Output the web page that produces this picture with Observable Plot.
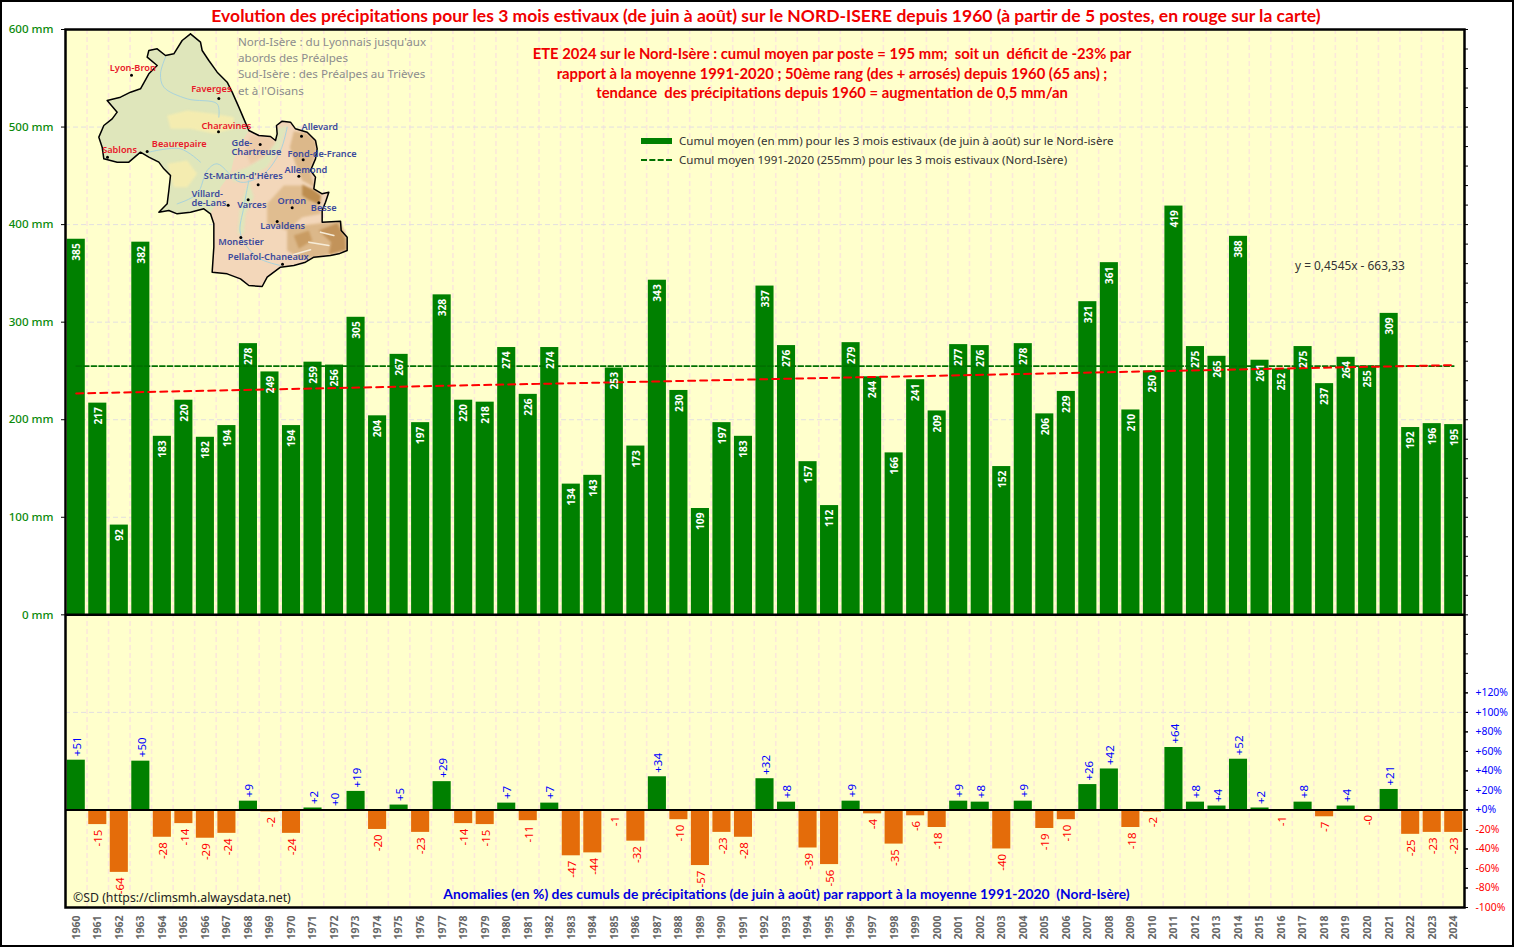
<!DOCTYPE html>
<html lang="fr">
<head>
<meta charset="utf-8">
<script src="https://cdn.jsdelivr.net/npm/d3@7"></script>
<script src="https://cdn.jsdelivr.net/npm/@observablehq/plot@0.6"></script>
<style>
html,body{margin:0;padding:0;background:#fff;overflow:hidden}
#page{position:relative;width:1514px;height:947px;overflow:hidden}
#page>svg{position:absolute;left:0;top:0}
#mapwrap{position:absolute;left:0;top:0;pointer-events:none}
#edge{position:absolute;left:0;top:0;width:1510px;height:943px;border:2px solid #000;pointer-events:none}
.t{position:absolute;white-space:pre;line-height:1}
#title{left:0;width:1532px;top:5px;text-align:center;font:bold 17.5px Lato,sans-serif;color:#f00000}
.red{left:432px;width:800px;text-align:center;font:bold 14.8px Lato,sans-serif;color:#f00000}
.note{left:238px;font:11.6px "Noto Sans",sans-serif;color:#8c8c8c}
.leg{left:679px;font:11.55px "Noto Sans",sans-serif;color:#333}
</style>
</head>
<body>
<div id="page">
<div class="t" id="title">Evolution des précipitations pour les 3 mois estivaux (de juin à août) sur le NORD-ISERE depuis 1960 (à partir de 5 postes, en rouge sur la carte)</div>
</div>
<script>
const years = d3.range(1960, 2025);
const cumul = [385,217,92,382,183,220,182,194,278,249,194,259,256,305,204,267,197,328,220,218,274,226,274,134,143,253,173,343,230,109,197,183,337,276,157,112,279,244,166,241,209,277,276,152,278,206,229,321,361,210,250,419,275,265,388,261,252,275,237,264,255,309,192,196,195];
const anomalies = [51,-15,-64,50,-28,-14,-29,-24,9,-2,-24,2,0,19,-20,5,-23,29,-14,-15,7,-11,7,-47,-44,-1,-32,34,-10,-57,-23,-28,32,8,-39,-56,9,-4,-35,-6,-18,9,8,-40,9,-19,-10,26,42,-18,-2,64,8,4,52,2,-1,8,-7,4,-0,21,-25,-23,-23];
const normalYears = [1960, 2024];
const normalValues = [255, 255];
const trendYears = [1960, 2024];
const trendValues = [227, 256];
const mmTicks = [0,100,200,300,400,500,600];
const anomalyBase = -200; // the 0% line of the lower panel on the shared axis
const pctPositive = [0,20,40,60,80,100,120];
const pctNegative = [-20,-40,-60,-80,-100];
const gridH = [100,200,300,400,500].concat([anomalyBase + 100]);

const rows = years.map((year,i)=>({year, mm:cumul[i], a:anomalies[i], pos:anomalies[i]>0 || Object.is(anomalies[i],0)}));
const fmtA = v => Object.is(v,-0) ? "-0" : (v>=0 ? "+"+v : String(v));
const W = 1514, H = 947;
const step = (W-65-50)/years.length;
const font = "'Noto Sans',sans-serif";

const chart = Plot.plot({
  width:W, height:H, marginLeft:65, marginRight:50, marginTop:29, marginBottom:40,
  style:{background:"transparent", fontFamily:font},
  x:{type:"band", domain:years, paddingInner:.16, paddingOuter:.08, round:false, align:.5},
  y:{domain:[-300,600], range:[907,29]},
  marks:[
    Plot.frame({fill:"#ffffcc", stroke:"none"}),
    Plot.ruleX(years.slice(0,-1),{x:d=>d, dx:step/2, stroke:"#fbe8da", strokeWidth:1.6, strokeDasharray:"5,3"}),
    Plot.ruleY(gridH,{stroke:"#e2dfe0", strokeWidth:1, strokeDasharray:"5,3"}),
    Plot.barY(rows,{x:"year", y1:0, y2:"mm", fill:"#008000"}),
    Plot.barY(rows,{x:"year", y1:anomalyBase, y2:d=>anomalyBase+d.a, fill:d=>d.a>=0?"#008000":"#e46c0a"}),
    Plot.ruleY([anomalyBase],{stroke:"#000", strokeWidth:2}),
    Plot.line(normalYears.map((y,i)=>({y,v:normalValues[i]})),{x:"y", y:"v", stroke:"#007000", strokeWidth:1.8, strokeDasharray:"5,2.6"}),
    Plot.line(trendYears.map((y,i)=>({y,v:trendValues[i]})),{x:"y", y:"v", stroke:"#ff0000", strokeWidth:2, strokeDasharray:"7,5"}),
    Plot.text(rows,{x:"year", y:"mm", text:d=>String(d.mm), rotate:-90, textAnchor:"end", dy:4, dx:.5, fill:"#fff", fontWeight:"bold", fontSize:10.2, fontFamily:"'Open Sans',sans-serif"}),
    Plot.text(rows.filter(d=>d.pos),{x:"year", y:d=>anomalyBase+d.a, text:d=>fmtA(d.a), rotate:-90, textAnchor:"start", dy:-4, dx:1, fill:"#0000ff", fontSize:11.5}),
    Plot.text(rows.filter(d=>!d.pos),{x:"year", y:d=>anomalyBase+d.a, text:d=>fmtA(d.a), rotate:-90, textAnchor:"end", dy:5, dx:1, fill:"#ff0000", fontSize:11.5}),
    Plot.axisY({anchor:"left", ticks:mmTicks, tickFormat:d=>d+" mm", tickSize:4, tickPadding:8, fill:"#0a8a0a", stroke:"#000", fontSize:11.6, fontWeight:500, label:null}),
    Plot.axisY({anchor:"right", ticks:d3.range(-300,601,20), tickFormat:()=>"", tickSize:3, stroke:"#000", label:null}),
    Plot.axisY({anchor:"right", ticks:pctPositive.map(p=>anomalyBase+p), tickFormat:d=>"+"+(d-anomalyBase)+"%", tickSize:3, tickPadding:8, fill:"#0000ff", stroke:"#000", fontSize:10.4, label:null}),
    Plot.axisY({anchor:"right", ticks:pctNegative.map(p=>anomalyBase+p), tickFormat:d=>(d-anomalyBase)+"%", tickSize:3, tickPadding:8, fill:"#ff0000", stroke:"#000", fontSize:10.4, label:null}),
    Plot.axisX({anchor:"bottom", tickRotate:-90, tickSize:0, tickPadding:8, tickFormat:d=>String(d), fill:"#666", fontSize:10.5, fontWeight:"bold", fontFamily:"'Open Sans',sans-serif", label:null}),
    Plot.ruleY([0],{stroke:"#000", strokeWidth:2.5}),
    Plot.frame({stroke:"#000", strokeWidth:2.5})
  ]
});
const page = document.getElementById("page");
page.appendChild(chart);

/* --- inset map, in the units of its own small scale --- */
const mapOutline = [[570,100],[600,125],[605,150],[625,180],[650,215],[680,245],[695,275],[715,320],[730,355],[745,390],[775,405],[810,408],[825,420],[830,400],[828,375],[845,362],[870,365],[885,385],[920,395],[945,420],[950,445],[945,475],[930,510],[945,530],[940,565],[965,580],[985,575],[975,605],[965,630],[965,665],[1020,662],[1022,690],[1040,710],[1040,750],[1015,760],[990,765],[940,770],[915,785],[880,795],[840,800],[800,830],[785,858],[745,855],[720,835],[680,820],[635,815],[640,740],[640,670],[630,640],[610,625],[570,635],[530,640],[505,630],[475,635],[500,610],[505,570],[510,525],[490,505],[475,485],[445,470],[420,455],[385,485],[350,485],[310,475],[305,440],[295,410],[310,375],[335,355],[350,335],[320,300],[360,290],[390,275],[420,265],[445,220],[470,195],[440,170],[445,150],[470,145],[495,165],[520,160],[545,120],[570,100]];
const mapSouth = [[745,390],[775,405],[810,408],[825,420],[830,400],[828,375],[845,362],[870,365],[885,385],[920,395],[945,420],[950,445],[945,475],[930,510],[945,530],[940,565],[965,580],[985,575],[975,605],[965,630],[965,665],[1020,662],[1022,690],[1040,710],[1040,750],[1015,760],[990,765],[940,770],[915,785],[880,795],[840,800],[800,830],[785,858],[745,855],[720,835],[680,820],[635,815],[640,740],[640,670],[630,640],[650,600],[660,560],[690,520],[700,475],[720,430]];
const mapValley = [[860,375],[840,440],[800,500],[750,530],[700,545],[690,520],[740,500],[790,470],[825,420],[830,385]];
const mapValley2 = [[745,540],[760,590],[735,640],[730,700],[712,700],[718,620]];
const mapWest = [[500,345],[560,330],[640,340],[700,350],[700,385],[640,400],[570,385],[510,385]];
const mapWest2 = [[500,490],[560,480],[590,520],[560,560],[520,560]];
const reliefChartreuse = [[750,405],[810,410],[825,425],[795,465],[750,490],[735,450]];
const reliefEast = [[880,392],[920,398],[945,422],[948,450],[928,510],[942,560],[905,540],[885,490],[868,440]];
const reliefMid = [[800,610],[850,555],[905,555],[950,600],[962,640],[905,650],[860,690],[800,670]];
const reliefSouth = [[860,680],[960,668],[1020,664],[1038,712],[1038,748],[960,768],[900,775],[860,750]];
const reliefDark = [[905,552],[940,568],[962,585],[958,612],[925,598],[905,585]];
const reliefDark2 = [[955,690],[1010,668],[1034,715],[1036,748],[985,762],[992,725]];
const reliefDark3 = [[880,705],[925,690],[935,720],[895,745]];
const snow1 = [[960,695],[1000,705]];
const snow2 = [[925,725],[985,735]];
const snow3 = [[880,762],[930,748]];
const riverA = [[495,170],[480,220],[490,260],[560,295],[650,310],[655,350]];
const riverB = [[860,380],[840,450],[790,520],[720,545],[650,490],[620,510],[590,580],[530,610]];
const riverC = [[745,540],[730,620],[720,700],[770,770],[840,795]];
const riverD = [[445,455],[540,445],[600,485]];
const northCities = ["Lyon-Bron","Faverges","Charavines","Beaurepaire","Sablons"];
const northLabelX = [328,572,603,454,305];
const northLabelY = [204,267,376,432,449];
const northDotX = [393,655,654,440,321];
const northDotY = [224,294,394,453,470];
const southCities = ["Gde-\nChartreuse","Allevard","Fond-de-France","Allemond","St-Martin-d'Hères","Villard-\nde-Lans","Varces","Ornon","Besse","Lavaldens","Monestier","Pellafol-Chaneaux"];
const southLabelX = [693,903,861,852,610,573,710,831,931,779,653,682];
const southLabelY = [442,381,460,509,528,594,613,601,622,677,725,771];
const southDotX = [779,903,908,895,773,683,743,875,955,830,721,846];
const southDotY = [432,407,478,527,553,614,598,622,607,663,711,791];

const poly = (pts,fill,blur)=>Plot.line(pts,{x:d=>d[0],y:d=>d[1],fill,stroke:"none",imageFilter:blur?"blur(1.2px)":undefined});
const river = pts=>Plot.line(pts,{x:d=>d[0],y:d=>d[1],stroke:"#a9d3dc",strokeWidth:1,curve:"catmull-rom"});
const snow = pts=>Plot.line(pts,{x:d=>d[0],y:d=>d[1],stroke:"#f6ecd8",strokeWidth:1.6});
const labels = (names,xs,ys,fill)=>Plot.text(names.map((n,i)=>({n,x:xs[i],y:ys[i]})),{x:"x",y:"y",text:"n",fill,textAnchor:"start",fontSize:9.2,fontWeight:600,lineHeight:1});
const dots = (xs,ys)=>Plot.dot(xs.map((x,i)=>({x,y:ys[i]})),{x:"x",y:"y",r:1.5,fill:"#000"});
const map = Plot.plot({
  width:460, height:300, margin:0,
  style:{background:"transparent", fontFamily:font, overflow:"visible"},
  x:{domain:[0,1380], axis:null}, y:{domain:[900,0], axis:null},
  marks:[
    poly(mapOutline,"#dfe6bb"),
    poly(mapWest,"#f4ecb0",true), poly(mapWest2,"#f4ecb0",true),
    poly(mapSouth,"#f3d7ba"),
    poly(mapValley,"#dfe6bb",true), poly(mapValley2,"#dfe6bb",true),
    poly(reliefChartreuse,"#ecccaa",true), poly(reliefEast,"#dcb88a",true), poly(reliefMid,"#e0bd90",true), poly(reliefSouth,"#dcb88a",true),
    poly(reliefDark,"#bd8d4f",true), poly(reliefDark2,"#c2935a",true), poly(reliefDark3,"#c99c63",true),
    snow(snow1), snow(snow2), snow(snow3),
    river(riverA), river(riverB), river(riverC), river(riverD),
    Plot.line(mapOutline,{x:d=>d[0],y:d=>d[1],stroke:"#000",strokeWidth:1.5}),
    dots(northDotX,northDotY), dots(southDotX,southDotY),
    labels(northCities,northLabelX,northLabelY,"#e8182a"),
    labels(southCities,southLabelX,southLabelY,"#3c4a9c")
  ]
});
const wrap = document.createElement("div"); wrap.id="mapwrap"; wrap.appendChild(map); page.appendChild(wrap);

/* --- page text --- */
const add = (cls,text,top,left,extra)=>{const e=document.createElement("div");e.className="t "+cls;e.textContent=text;e.style.top=top+"px";if(left!=null)e.style.left=left+"px";if(extra)e.style.cssText+=extra;page.appendChild(e);return e;};
const notes = ["Nord-Isère : du Lyonnais jusqu'aux","abords des Préalpes","Sud-Isère : des Préalpes au Trièves","et à l'Oisans"];
notes.forEach((s,i)=>add("note",s,[34,50,66,83][i]));
const redLines = ["ETE 2024 sur le Nord-Isère : cumul moyen par poste = 195 mm;  soit un  déficit de -23% par","rapport à la moyenne 1991-2020 ; 50ème rang (des + arrosés) depuis 1960 (65 ans) ;","tendance  des précipitations depuis 1960 = augmentation de 0,5 mm/an"];
redLines.forEach((s,i)=>add("red",s,[44,64,83][i]));
add("leg","Cumul moyen (en mm) pour les 3 mois estivaux (de juin à août) sur le Nord-isère",133);
add("leg","Cumul moyen 1991-2020 (255mm) pour les 3 mois estivaux (Nord-Isère)",152);
add("","",138,641,"width:31px;height:6px;background:#008000");
add("","",159,641,"width:31px;height:0;border-top:2px dashed #007000");
add("leg","y = 0,4545x - 663,33",257,1295,"font-size:11.9px");
add("","Anomalies (en %) des cumuls de précipitations (de juin à août) par rapport à la moyenne 1991-2020  (Nord-Isère)",885,0,"width:1573px;text-align:center;font:bold 13.85px Lato,sans-serif;color:#0000e0");
add("","©SD (https://climsmh.alwaysdata.net)",889,73,"font:12.3px 'Noto Sans',sans-serif;color:#222");
const edge=document.createElement("div");edge.id="edge";page.appendChild(edge);
</script>
</body>
</html>
